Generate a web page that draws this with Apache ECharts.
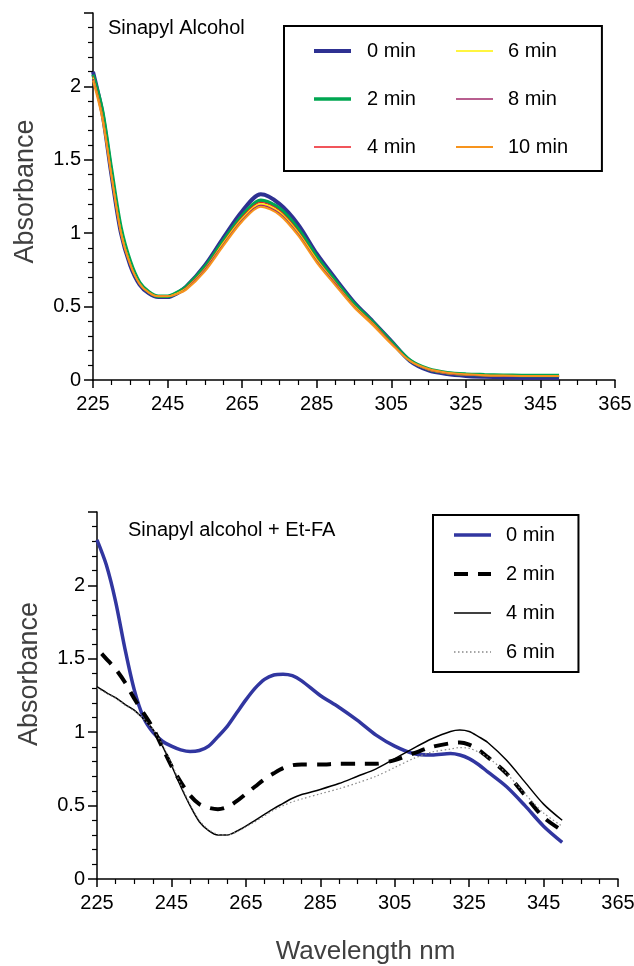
<!DOCTYPE html>
<html>
<head>
<meta charset="utf-8">
<script src="https://cdn.jsdelivr.net/npm/echarts@6/dist/echarts.min.js"></script>
<style>
  html, body { margin: 0; padding: 0; background: #fff; }
  #chart { width: 634px; height: 966px; }
</style>
</head>
<body>
<div id="chart"></div>
<script>
// ---- Sinapyl alcohol spectra (absorbance vs wavelength, nm) ----
const topWavelengths = [225, 227.5, 230, 232.5, 235, 237.5, 240, 242.5, 245, 247.5, 250, 255, 260, 265, 270, 275, 280, 285, 290, 295, 300, 305, 310, 315, 320, 325, 330, 335, 340, 345, 350];
const sa0min  = [2.10, 1.82, 1.39, 1.00, 0.78, 0.65, 0.59, 0.565, 0.565, 0.59, 0.635, 0.78, 0.97, 1.15, 1.265, 1.20, 1.06, 0.86, 0.69, 0.53, 0.40, 0.265, 0.13, 0.065, 0.04, 0.028, 0.022, 0.018, 0.016, 0.015, 0.015];
const sa2min  = [2.08, 1.84, 1.43, 1.04, 0.81, 0.665, 0.60, 0.57, 0.57, 0.595, 0.635, 0.77, 0.95, 1.12, 1.225, 1.17, 1.03, 0.84, 0.675, 0.52, 0.395, 0.26, 0.135, 0.075, 0.05, 0.04, 0.036, 0.033, 0.031, 0.03, 0.03];
const sa4min  = [2.07, 1.81, 1.40, 1.01, 0.79, 0.655, 0.595, 0.57, 0.57, 0.59, 0.63, 0.76, 0.94, 1.11, 1.21, 1.155, 1.015, 0.825, 0.665, 0.51, 0.39, 0.255, 0.13, 0.07, 0.045, 0.035, 0.03, 0.028, 0.027, 0.026, 0.026];
const sa6min  = [2.06, 1.80, 1.39, 1.01, 0.79, 0.655, 0.595, 0.57, 0.57, 0.59, 0.625, 0.755, 0.935, 1.10, 1.20, 1.145, 1.005, 0.82, 0.66, 0.505, 0.385, 0.25, 0.13, 0.07, 0.045, 0.035, 0.03, 0.028, 0.027, 0.026, 0.026];
const sa8min  = [2.05, 1.79, 1.38, 1.00, 0.785, 0.655, 0.595, 0.57, 0.57, 0.585, 0.62, 0.75, 0.925, 1.09, 1.19, 1.135, 0.995, 0.81, 0.655, 0.50, 0.38, 0.25, 0.13, 0.07, 0.045, 0.035, 0.03, 0.028, 0.027, 0.026, 0.026];
const sa10min = [2.04, 1.78, 1.38, 1.00, 0.785, 0.655, 0.595, 0.57, 0.57, 0.585, 0.615, 0.74, 0.915, 1.08, 1.18, 1.125, 0.985, 0.80, 0.645, 0.495, 0.375, 0.245, 0.13, 0.075, 0.05, 0.04, 0.033, 0.03, 0.028, 0.027, 0.027];

// ---- Sinapyl alcohol + Et-FA spectra ----
const botWavelengths = [225, 227.5, 230, 232.5, 235, 237.5, 240, 242.5, 245, 247.5, 250, 252.5, 255, 257.5, 260, 262.5, 265, 267.5, 270, 272.5, 275, 277.5, 280, 285, 290, 295, 300, 305, 310, 315, 320, 322.5, 325, 327.5, 330, 335, 340, 345, 350];
const fa0min = [2.31, 2.14, 1.89, 1.57, 1.29, 1.10, 1.00, 0.94, 0.905, 0.88, 0.868, 0.875, 0.905, 0.97, 1.04, 1.13, 1.22, 1.30, 1.36, 1.39, 1.395, 1.385, 1.35, 1.25, 1.17, 1.08, 0.98, 0.905, 0.855, 0.845, 0.855, 0.845, 0.82, 0.78, 0.73, 0.63, 0.50, 0.36, 0.25];
const fa2min = [1.57, 1.50, 1.43, 1.34, 1.23, 1.13, 1.03, 0.90, 0.77, 0.66, 0.57, 0.51, 0.485, 0.475, 0.49, 0.53, 0.58, 0.63, 0.68, 0.72, 0.755, 0.775, 0.78, 0.78, 0.785, 0.785, 0.785, 0.81, 0.855, 0.90, 0.925, 0.93, 0.915, 0.88, 0.83, 0.72, 0.57, 0.42, 0.33];
const fa4min = [1.31, 1.27, 1.235, 1.19, 1.15, 1.09, 1.02, 0.91, 0.775, 0.63, 0.50, 0.39, 0.33, 0.30, 0.30, 0.325, 0.36, 0.40, 0.44, 0.48, 0.515, 0.55, 0.575, 0.61, 0.65, 0.70, 0.75, 0.82, 0.89, 0.955, 1.005, 1.015, 1.005, 0.97, 0.93, 0.81, 0.66, 0.51, 0.40];
const fa6min = [1.30, 1.265, 1.23, 1.185, 1.145, 1.09, 1.02, 0.92, 0.79, 0.645, 0.51, 0.40, 0.335, 0.305, 0.30, 0.32, 0.355, 0.39, 0.43, 0.47, 0.50, 0.525, 0.545, 0.58, 0.615, 0.655, 0.70, 0.76, 0.82, 0.865, 0.885, 0.895, 0.89, 0.865, 0.83, 0.72, 0.58, 0.45, 0.36];

// shared axis ticks
const xMin = 225, xMax = 365, xStep = 20;
const yMin = 0, yMax = 2.5, yStep = 0.5;

const FONT = 'Liberation Sans, Arial, sans-serif';
const pairs = (xs, ys) => xs.map((x, i) => [x, ys[i]]);

// line styles per curve, shared by the series and their key entries
const styles = {
  'sa0':  { color: '#2E3192', width: 4,   type: 'solid' },
  'sa2':  { color: '#00A651', width: 3.5, type: 'solid' },
  'sa4':  { color: '#ED1C24', width: 1.2, type: 'solid' },
  'sa6':  { color: '#FFF200', width: 1.5, type: 'solid' },
  'sa8':  { color: '#A0286A', width: 1.5, type: 'solid' },
  'sa10': { color: '#F7941D', width: 2,   type: 'solid' },
  'fa0':  { color: '#3136A0', width: 3.5, type: 'solid' },
  'fa2':  { color: '#000000', width: 4,   type: [14, 10], dashOffset: 17 },
  'fa4':  { color: '#000000', width: 1.5, type: 'solid' },
  'fa6':  { color: '#888888', width: 1.2, type: [1.5, 2.5] }
};

function xAxisFor(gridIndex, withName) {
  return {
    type: 'value', gridIndex, min: xMin, max: xMax, interval: xStep,
    axisLine: { lineStyle: { color: '#000', width: 1.5 } },
    axisTick: { length: 8, lineStyle: { color: '#000', width: 1.5 } },
    minorTick: { show: true, splitNumber: 4, length: 5, lineStyle: { color: '#000', width: 1.2 } },
    splitLine: { show: false },
    axisLabel: { color: '#000', fontSize: 20, fontFamily: FONT, margin: 14, showMaxLabel: true, showMinLabel: true },
    name: withName ? 'Wavelength nm' : '',
    nameLocation: 'middle', nameGap: 60,
    nameTextStyle: { color: '#404040', fontSize: 26, fontFamily: FONT, padding: [0, 0, 0, 16] }
  };
}
function yAxisFor(gridIndex, shift) {
  return {
    type: 'value', gridIndex, min: yMin, max: yMax, interval: yStep,
    axisLine: { show: true, lineStyle: { color: '#000', width: 1.5 } },
    axisTick: { show: true, length: 9, lineStyle: { color: '#000', width: 1.5 } },
    minorTick: { show: true, splitNumber: 5, length: 5, lineStyle: { color: '#000', width: 1.2 } },
    splitLine: { show: false },
    axisLabel: {
      color: '#000', fontSize: 20, fontFamily: FONT, margin: 12,
      formatter: v => (v >= yMax ? '' : String(v))
    },
    name: 'Absorbance', nameLocation: 'middle', nameGap: 54,
    nameTextStyle: { color: '#404040', fontSize: 27, fontFamily: FONT, padding: [0, 0, 0, shift] }
  };
}

function line(name, xs, ys, gi, key) {
  const s = styles[key];
  return {
    name, type: 'line', xAxisIndex: gi, yAxisIndex: gi,
    data: pairs(xs, ys), symbol: 'none', smooth: 0.3,
    lineStyle: { color: s.color, width: s.width, type: s.type, dashOffset: s.dashOffset || 0, cap: 'butt' },
    itemStyle: { color: s.color }, emphasis: { disabled: true }
  };
}

// key entry: the curve's own stroke, never thinner than 1.5 px so it stays crisp
function keyItem(name, key) {
  const s = styles[key];
  return { name, lineStyle: { color: s.color, width: Math.max(s.width, 1.5), type: s.type, dashOffset: 0, opacity: 1 } };
}

const hiddenDot = { color: 'rgba(0,0,0,0)', borderWidth: 0 };
const legendText = { color: '#000', fontSize: 20, fontFamily: FONT, lineHeight: 20, padding: [0, 0, 0, 11] };

const option = {
  animation: false,
  backgroundColor: '#fff',
  title: [
    { text: 'Sinapyl Alcohol', left: 108, top: 18, padding: 0,
      textStyle: { color: '#000', fontSize: 20, fontWeight: 'normal', fontFamily: FONT } },
    { text: 'Sinapyl alcohol + Et-FA', left: 128, top: 520, padding: 0,
      textStyle: { color: '#000', fontSize: 20, fontWeight: 'normal', fontFamily: FONT } }
  ],
  legend: [
    { // first column of the upper key, carries the frame for both columns
      data: [keyItem('0 min', 'sa0'), keyItem('2 min', 'sa2'), keyItem('4 min', 'sa4')],
      orient: 'vertical', left: 284, top: 26,
      padding: [15, 186, 14, 28], itemGap: 28, itemWidth: 37, itemHeight: 14,
      borderColor: '#000', borderWidth: 2, textStyle: legendText, itemStyle: hiddenDot,
      selectedMode: false
    },
    {
      data: [keyItem('6 min', 'sa6'), keyItem('8 min', 'sa8'), keyItem('10 min', 'sa10')],
      orient: 'vertical', left: 455, top: 41,
      padding: 0, itemGap: 28, itemWidth: 37, itemHeight: 14,
      textStyle: { color: '#000', fontSize: 20, fontFamily: FONT, lineHeight: 20, padding: [0, 0, 0, 10] },
      itemStyle: hiddenDot, selectedMode: false
    },
    {
      data: [keyItem('0 min ', 'fa0'), keyItem('2 min ', 'fa2'), keyItem('4 min ', 'fa4'), keyItem('6 min ', 'fa6')],
      orient: 'vertical', left: 433, top: 515,
      padding: [10, 18, 10, 19], itemGap: 19, itemWidth: 37, itemHeight: 14,
      borderColor: '#000', borderWidth: 2,
      textStyle: { color: '#000', fontSize: 20, fontFamily: FONT, lineHeight: 20, padding: [0, 0, 0, 10] },
      itemStyle: hiddenDot, selectedMode: false
    }
  ],
  grid: [
    { left: 93, top: 13, width: 522, height: 367, outerBoundsMode: 'none' },
    { left: 97, top: 512, width: 521, height: 367, outerBoundsMode: 'none' }
  ],
  xAxis: [xAxisFor(0, false), xAxisFor(1, true)],
  yAxis: [yAxisFor(0, 10), yAxisFor(1, 43)],
  series: [
    line('0 min', topWavelengths, sa0min, 0, 'sa0'),
    line('2 min', topWavelengths, sa2min, 0, 'sa2'),
    line('4 min', topWavelengths, sa4min, 0, 'sa4'),
    line('6 min', topWavelengths, sa6min, 0, 'sa6'),
    line('8 min', topWavelengths, sa8min, 0, 'sa8'),
    line('10 min', topWavelengths, sa10min, 0, 'sa10'),

    line('0 min ', botWavelengths, fa0min, 1, 'fa0'),
    line('2 min ', botWavelengths, fa2min, 1, 'fa2'),
    line('4 min ', botWavelengths, fa4min, 1, 'fa4'),
    line('6 min ', botWavelengths, fa6min, 1, 'fa6')
  ]
};

const chart = echarts.init(document.getElementById('chart'), null, { renderer: 'canvas' });
chart.setOption(option);
</script>
</body>
</html>
